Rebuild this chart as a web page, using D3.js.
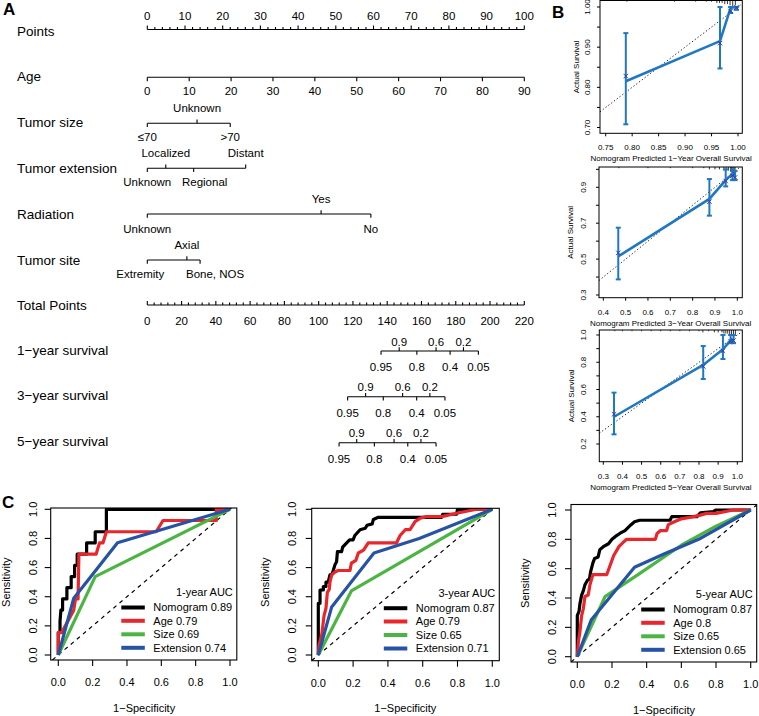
<!DOCTYPE html>
<html><head><meta charset="utf-8">
<script src="https://cdn.jsdelivr.net/npm/d3@7/dist/d3.min.js"></script>
<style>
html,body{margin:0;padding:0;background:#fff;}
svg{display:block;font-family:"Liberation Sans",Arial,Helvetica,sans-serif;}
</style></head><body>
<svg id="chart" width="759" height="716"></svg>
<script>
// ================= DATA =================
// --- Nomogram (panel A)
const rowLabels = ["Points","Age","Tumor size","Tumor extension","Radiation","Tumor site","Total Points","1\u2212year survival","3\u2212year survival","5\u2212year survival"];
const pointsTicks = [0,10,20,30,40,50,60,70,80,90,100];
const pointsMinorTicks = [2,4,6,8,12,14,16,18,22,24,26,28,32,34,36,38,42,44,46,48,52,54,56,58,62,64,66,68,72,74,76,78,82,84,86,88,92,94,96,98];
const ageTicks = [0,10,20,30,40,50,60,70,80,90];
const ageRange = [0,90];
const sizeLevels = ["\u226470","Unknown",">70"];
const sizePoints = [0,13.2,22.0];
const extLevels = ["Unknown","Localized","Regional","Distant"];
const extPoints = [0,4.9,12.3,26.1];
const radLevels = ["Unknown","Yes","No"];
const radPoints = [0,46.1,59.3];
const siteLevels = ["Extremity","Axial","Bone, NOS"];
const sitePoints = [0,10.5,14.0];
const totalTicks = [0,20,40,60,80,100,120,140,160,180,200,220];
const totalMinorTicks = [4,8,12,16,24,28,32,36,44,48,52,56,64,68,72,76,84,88,92,96,104,108,112,116,124,128,132,136,144,148,152,156,164,168,172,176,184,188,192,196,204,208,212,216];
const survLevels = ["0.95","0.9","0.8","0.6","0.4","0.2","0.05"];
const surv1Total = [136.4,147.0,157.3,168.5,176.7,184.5,193.2];
const surv3Total = [116.9,127.4,137.7,149.0,157.2,164.9,173.7];
const surv5Total = [111.9,122.2,132.5,144.0,152.0,159.7,168.5];

// --- Calibration (panel B)
const cal1Pred = [0.788,0.966,0.986,0.997];
const cal1Obs  = [0.815,0.915,0.998,1.0];
const cal1Lo   = [0.708,0.847,0.985,0.993];
const cal1Hi   = [0.935,1.0,1.0,1.0];
const cal1Corr = [0.828,0.910,0.990,0.999];
const cal1XTicks = [0.75,0.80,0.85,0.90,0.95,1.00];
const cal1YTicks = [0.70,0.75,0.80,0.85,0.90,0.95,1.00];
const cal1YLabels = [0.70,0.80,0.90,1.00];
const cal1HistX = [0.79,0.88,0.92,0.94,0.95,0.96,0.965,0.97,0.975,0.98,0.985,0.99,0.995];
const cal1HistN = [1,1,1,1,1,2,2,2,3,3,4,5,4];

const cal2Pred = [0.467,0.875,0.948,0.978,0.99];
const cal2Obs  = [0.515,0.835,0.94,0.975,0.965];
const cal2Lo   = [0.387,0.742,0.905,0.94,0.94];
const cal2Hi   = [0.675,0.946,1.0,1.0,0.99];
const cal2Corr = [0.535,0.82,0.935,0.965,0.955];
const cal2XTicks = [0.4,0.5,0.6,0.7,0.8,0.9,1.0];
const cal2YTicks = [0.3,0.4,0.5,0.6,0.7,0.8,0.9,1.0];
const cal2YLabels = [0.3,0.5,0.7,0.9];
const cal2HistX = [0.47,0.6,0.7,0.8,0.85,0.875,0.9,0.92,0.94,0.95,0.96,0.97,0.975,0.98,0.985,0.99];
const cal2HistN = [1,1,1,1,1,2,2,2,3,3,3,4,4,5,5,4];

const cal3Pred = [0.356,0.822,0.925,0.965,0.98];
const cal3Obs  = [0.40,0.78,0.895,0.96,0.965];
const cal3Lo   = [0.271,0.677,0.824,0.94,0.94];
const cal3Hi   = [0.577,0.919,1.0,1.0,1.0];
const cal3Corr = [0.418,0.77,0.885,0.955,0.96];
const cal3XTicks = [0.3,0.4,0.5,0.6,0.7,0.8,0.9,1.0];
const cal3YTicks = [0.2,0.3,0.4,0.5,0.6,0.7,0.8,0.9,1.0];
const cal3YLabels = [0.2,0.4,0.6,0.8,1.0];
const cal3HistX = [0.36,0.4,0.45,0.5,0.55,0.6,0.65,0.7,0.75,0.8,0.82,0.85,0.88,0.9,0.92,0.93,0.94,0.95,0.96,0.97,0.98,0.99];
const cal3HistN = [1,1,1,1,1,1,1,1,1,1,2,1,2,2,2,3,3,3,4,4,5,4];

// --- ROC (panel C)
const rocTicks = [0,0.2,0.4,0.6,0.8,1.0];
const rocSeriesNames = ["Nomogram","Age","Size","Extension"];
const auc1 = ["0.89","0.79","0.69","0.74"];
const auc3 = ["0.87","0.79","0.65","0.71"];
const auc5 = ["0.87","0.8","0.65","0.65"];

const nomo1 = [[0,0],[0,0.154],[0.01,0.154],[0.01,0.231],[0.015,0.308],[0.025,0.308],[0.025,0.385],[0.05,0.385],[0.05,0.462],[0.075,0.462],[0.075,0.538],[0.095,0.538],[0.095,0.615],[0.11,0.615],[0.11,0.692],[0.165,0.692],[0.165,0.769],[0.215,0.769],[0.215,0.846],[0.28,0.846],[0.28,1],[1,1]];
const age1 = [[0,0],[0,0.154],[0.02,0.154],[0.09,0.308],[0.10,0.385],[0.115,0.385],[0.12,0.692],[0.22,0.692],[0.24,0.769],[0.26,0.769],[0.28,0.846],[0.57,0.846],[0.61,0.923],[0.92,0.923],[0.92,1],[1,1]];
const size1 = [[0,0],[0.215,0.538],[1,1]];
const ext1 = [[0,0],[0.09,0.39],[0.345,0.77],[1,1]];

const nomo3 = [[0,0],[0,0.355],[0.01,0.355],[0.01,0.446],[0.029,0.446],[0.029,0.47],[0.044,0.47],[0.044,0.5],[0.057,0.5],[0.067,0.55],[0.077,0.55],[0.086,0.58],[0.096,0.62],[0.105,0.64],[0.11,0.71],[0.134,0.71],[0.14,0.74],[0.163,0.77],[0.18,0.79],[0.2,0.79],[0.21,0.82],[0.24,0.86],[0.27,0.87],[0.28,0.89],[0.31,0.9],[0.316,0.93],[0.345,0.945],[0.709,0.945],[0.715,0.966],[0.795,0.966],[0.8,1],[1,1]];
const age3 = [[0,0],[0.004,0.07],[0.02,0.14],[0.033,0.27],[0.044,0.32],[0.052,0.43],[0.063,0.45],[0.067,0.5],[0.077,0.55],[0.096,0.57],[0.115,0.58],[0.182,0.58],[0.19,0.63],[0.216,0.65],[0.23,0.70],[0.26,0.72],[0.287,0.77],[0.45,0.77],[0.47,0.82],[0.5,0.86],[0.527,0.86],[0.556,0.915],[0.584,0.938],[0.62,0.95],[0.71,0.95],[0.795,0.973],[0.91,1],[1,1]];
const size3 = [[0,0],[0.19,0.44],[1,1]];
const ext3 = [[0,0],[0.077,0.33],[0.32,0.70],[0.58,0.80],[1,1]];

const nomo5 = [[0,0],[0,0.28],[0.01,0.31],[0.015,0.36],[0.025,0.42],[0.035,0.45],[0.044,0.49],[0.058,0.52],[0.07,0.53],[0.077,0.58],[0.09,0.64],[0.1,0.67],[0.12,0.68],[0.13,0.73],[0.15,0.75],[0.18,0.77],[0.2,0.8],[0.22,0.82],[0.245,0.84],[0.275,0.86],[0.31,0.9],[0.33,0.92],[0.36,0.93],[0.535,0.93],[0.545,0.955],[0.69,0.955],[0.71,0.98],[0.785,0.99],[0.8,1],[1,1]];
const age5 = [[0,0],[0.006,0.1],[0.015,0.17],[0.025,0.28],[0.035,0.33],[0.044,0.41],[0.063,0.42],[0.073,0.49],[0.09,0.56],[0.17,0.56],[0.19,0.625],[0.21,0.69],[0.24,0.75],[0.265,0.78],[0.285,0.8],[0.45,0.8],[0.46,0.84],[0.48,0.86],[0.515,0.86],[0.525,0.9],[0.56,0.92],[0.6,0.94],[0.67,0.955],[0.71,0.965],[0.745,0.977],[0.8,0.977],[0.9,1],[1,1]];
const size5 = [[0,0],[0.16,0.41],[0.35,0.56],[0.6,0.76],[0.8,0.89],[1,1]];
const ext5 = [[0,0],[0.08,0.25],[0.33,0.61],[0.5,0.7],[0.7,0.8],[1,1]];

// ================= STYLE / LAYOUT =================
const ROC_COLORS = ["#000000","#e8262b","#4bb543","#2753a5"];
const CAL_BLUE = "#1f78c1";
const CAL_MARK = "#3a3aa8";
const svg = d3.select("#chart");

svg.selectAll("text.panel").data([{t:"A",x:3,y:15},{t:"B",x:552,y:18},{t:"C",x:2,y:508}]).join("text")
  .attr("class","panel").attr("x",d=>d.x).attr("y",d=>d.y)
  .style("font-size","17px").style("font-weight","bold").text(d=>d.t);

// ---------- Nomogram ----------
const nom = svg.append("g");
const ptsX = d3.scaleLinear().domain([0,100]).range([147.3,524.3]);
const ageX = d3.scaleLinear().domain(ageRange).range([ptsX(0),ptsX(100)]);
const totX = d3.scaleLinear().domain([0,220]).range([147.3,524.3]);
const rowY = [29.5,77.3,123.3,168.3,214,260,305,351,396.7,442.7];
const rowLabelY = [31,76,122.7,168.3,214,260,305,350.5,395.5,441];
const labelNudge = {"Extremity":-7,"Bone, NOS":15,"Regional":11};

nom.selectAll("text.rowlab").data(rowLabels).join("text").attr("class","rowlab")
  .attr("x",17).attr("y",(d,i)=>rowLabelY[i]).attr("dy","0.35em")
  .style("font-size","13.5px").text(d=>d);

function contAxis(scale, majors, minors, y, dir, majLen, minLen, labOff) {
  const g = nom.append("g").attr("transform",`translate(0,${y})`).attr("stroke","#000").attr("stroke-width",1.1);
  g.append("line").attr("x1",scale(majors[0])).attr("x2",scale(majors[majors.length-1])).attr("y1",0).attr("y2",0);
  if (minors) g.selectAll("line.mn").data(minors).join("line").attr("class","mn")
    .attr("x1",scale).attr("x2",scale).attr("y1",0).attr("y2",dir*minLen);
  g.selectAll("line.mj").data(majors).join("line").attr("class","mj")
    .attr("x1",scale).attr("x2",scale).attr("y1",0).attr("y2",dir*majLen);
  g.selectAll("text").data(majors).join("text").attr("stroke","none")
    .attr("x",scale).attr("y",labOff).attr("dy","0.35em").attr("text-anchor","middle")
    .style("font-size","11.5px").text(d=>d);
}
contAxis(ptsX, pointsTicks, pointsMinorTicks, rowY[0], -1, 4, 2.5, -13.5);
contAxis(ageX, ageTicks, null, rowY[1], 1, 4, 0, 13.7);
contAxis(totX, totalTicks, totalMinorTicks, rowY[6], -1, 4, 2.5, 15.7);

function catAxis(scale, levels, vals, y, aboveOff, belowOff) {
  const g = nom.append("g").attr("transform",`translate(0,${y})`).attr("stroke","#000").attr("stroke-width",1.1);
  g.append("line").attr("x1",scale(d3.min(vals))).attr("x2",scale(d3.max(vals))).attr("y1",0).attr("y2",0);
  const items = levels.map((lv,i)=>({lv, v:vals[i], dir: i%2===0?1:-1}));
  g.selectAll("line.tk").data(items).join("line").attr("class","tk")
    .attr("x1",d=>scale(d.v)).attr("x2",d=>scale(d.v)).attr("y1",0).attr("y2",d=>d.dir*3.8);
  g.selectAll("text").data(items).join("text").attr("stroke","none")
    .attr("x",d=>scale(d.v)+(labelNudge[d.lv]||0)).attr("y",d=>d.dir>0?belowOff:aboveOff)
    .attr("dy","0.35em").attr("text-anchor","middle").style("font-size","11.5px").text(d=>d.lv);
}
catAxis(ptsX, sizeLevels, sizePoints, rowY[2], -15, 13.4);
catAxis(ptsX, extLevels, extPoints, rowY[3], -15, 13.4);
catAxis(ptsX, radLevels, radPoints, rowY[4], -15, 15);
catAxis(ptsX, siteLevels, sitePoints, rowY[5], -15, 14);
catAxis(totX, survLevels, surv1Total, rowY[7], -9.4, 15.8);
catAxis(totX, survLevels, surv3Total, rowY[8], -9.4, 15.8);
catAxis(totX, survLevels, surv5Total, rowY[9], -9.4, 15.8);

// ---------- Calibration ----------
function calPlot(c) {
  const g = svg.append("g");
  const x = d3.scaleLinear().domain(c.xDom).range(c.xRange);
  const y = d3.scaleLinear().domain(c.yDom).range(c.yRange);
  const b = c.box;
  const fs = "8px";
  const v0 = Math.max(x.invert(b.l), y.invert(b.b)), v1 = Math.min(x.invert(b.r), y.invert(b.t));
  g.append("line").attr("x1",x(v0)).attr("y1",y(v0)).attr("x2",x(v1)).attr("y2",y(v1))
    .attr("stroke","#222").attr("stroke-width",1).attr("stroke-dasharray","1.3,2.2");
  g.selectAll("line.h").data(c.histX.map((v,i)=>[v,c.histN[i]])).join("line").attr("class","h")
    .attr("x1",d=>x(d[0])).attr("x2",d=>x(d[0])).attr("y1",b.t).attr("y2",d=>b.t+d[1]*1.2)
    .attr("stroke","#000").attr("stroke-width",0.8);
  const pts = c.pred.map((p,i)=>({p, o:c.obs[i], lo:c.lo[i], hi:c.hi[i], cr:c.corr[i]}));
  const eb = g.append("g").attr("stroke",CAL_BLUE).attr("stroke-width",2);
  eb.selectAll("line.v").data(pts).join("line").attr("class","v")
    .attr("x1",d=>x(d.p)).attr("x2",d=>x(d.p)).attr("y1",d=>y(d.lo)).attr("y2",d=>y(d.hi));
  eb.selectAll("line.c1").data(pts).join("line").attr("class","c1")
    .attr("x1",d=>x(d.p)-2.5).attr("x2",d=>x(d.p)+2.5).attr("y1",d=>y(d.lo)).attr("y2",d=>y(d.lo));
  eb.selectAll("line.c2").data(pts).join("line").attr("class","c2")
    .attr("x1",d=>x(d.p)-2.5).attr("x2",d=>x(d.p)+2.5).attr("y1",d=>y(d.hi)).attr("y2",d=>y(d.hi));
  g.append("path").datum(pts).attr("fill","none").attr("stroke",CAL_BLUE).attr("stroke-width",2.6)
    .attr("d",d3.line().x(d=>x(d.p)).y(d=>y(d.o)));
  const mk = g.append("g").attr("stroke",CAL_MARK).attr("stroke-width",1);
  mk.selectAll("path").data(pts).join("path")
    .attr("d",d=>{const cx=x(d.p), cy=y(d.cr), s=2.2; return `M${cx-s},${cy-s}L${cx+s},${cy+s}M${cx-s},${cy+s}L${cx+s},${cy-s}`;});
  g.append("rect").attr("x",b.l).attr("y",b.t).attr("width",b.r-b.l).attr("height",b.b-b.t)
    .attr("fill","none").attr("stroke","#000").attr("stroke-width",1);
  const ax = g.append("g").attr("stroke","#000");
  ax.selectAll("line.xt").data(c.xTicks).join("line").attr("class","xt")
    .attr("x1",x).attr("x2",x).attr("y1",b.b).attr("y2",b.b+3);
  ax.selectAll("line.yt").data(c.yTicks).join("line").attr("class","yt")
    .attr("y1",y).attr("y2",y).attr("x1",b.l).attr("x2",b.l-3);
  g.selectAll("text.xl").data(c.xTicks).join("text").attr("class","xl")
    .attr("x",x).attr("y",b.b+14).attr("dy","0.35em").attr("text-anchor","middle").style("font-size",fs)
    .text(d=>c.fmt(d));
  g.selectAll("text.yl").data(c.yLabels).join("text").attr("class","yl")
    .attr("transform",d=>`translate(${c.yTickX},${y(d)}) rotate(-90)`).attr("dy","0.35em")
    .attr("text-anchor","middle").style("font-size",fs).text(d=>c.fmt(d));
  g.append("text").attr("x",(b.l+b.r)/2).attr("y",b.b+25).attr("dy","0.35em").attr("text-anchor","middle")
    .style("font-size",fs).text(c.xLabel);
  g.append("text").attr("transform",`translate(${c.yLabX},${(b.t+b.b)/2}) rotate(-90)`).attr("dy","0.35em")
    .attr("text-anchor","middle").style("font-size",fs).text("Actual Survival");
}
const f2 = d3.format(".2f"), f1 = d3.format(".1f");
calPlot({xDom:[0.75,1.0], xRange:[605.7,738], yDom:[0.7,1.0], yRange:[127.5,7],
  box:{l:600,r:742.3,t:0.5,b:133.3}, pred:cal1Pred, obs:cal1Obs, lo:cal1Lo, hi:cal1Hi, corr:cal1Corr,
  xTicks:cal1XTicks, yTicks:cal1YTicks, yLabels:cal1YLabels, histX:cal1HistX, histN:cal1HistN,
  fmt:f2, yTickX:586.7, yLabX:576.5, xLabel:"Nomogram Predicted 1\u2212Year Overall Survival"});
calPlot({xDom:[0.4,1.0], xRange:[603.3,737.3], yDom:[0.3,0.9], yRange:[295,187.3],
  box:{l:599,r:742.3,t:167,b:297.7}, pred:cal2Pred, obs:cal2Obs, lo:cal2Lo, hi:cal2Hi, corr:cal2Corr,
  xTicks:cal2XTicks, yTicks:cal2YTicks, yLabels:cal2YLabels, histX:cal2HistX, histN:cal2HistN,
  fmt:f1, yTickX:583.3, yLabX:570, xLabel:"Nomogram Predicted 3\u2212Year Overall Survival"});
calPlot({xDom:[0.3,1.0], xRange:[603.3,737.3], yDom:[0.2,1.0], yRange:[444,335],
  box:{l:599.3,r:742.3,t:330,b:461.7}, pred:cal3Pred, obs:cal3Obs, lo:cal3Lo, hi:cal3Hi, corr:cal3Corr,
  xTicks:cal3XTicks, yTicks:cal3YTicks, yLabels:cal3YLabels, histX:cal3HistX, histN:cal3HistN,
  fmt:f1, yTickX:583.3, yLabX:571, xLabel:"Nomogram Predicted 5\u2212Year Overall Survival"});

// ---------- ROC ----------
let clipId = 0;
function rocPlot(c) {
  const g = svg.append("g");
  const x = d3.scaleLinear().domain([0,1]).range(c.xRange);
  const y = d3.scaleLinear().domain([0,1]).range(c.yRange);
  const b = c.box;
  const id = "clip"+(clipId++);
  svg.append("defs").append("clipPath").attr("id",id).append("rect")
    .attr("x",b.l).attr("y",b.t).attr("width",b.r-b.l).attr("height",b.b-b.t);
  const pg = g.append("g").attr("clip-path",`url(#${id})`);
  const lo = Math.max(x.invert(b.l), y.invert(b.b)), hi = Math.min(x.invert(b.r), y.invert(b.t));
  pg.append("line").attr("x1",x(lo)).attr("y1",y(lo)).attr("x2",x(hi)).attr("y2",y(hi))
    .attr("stroke","#000").attr("stroke-width",1.2).attr("stroke-dasharray","4,4");
  const ln = d3.line().x(d=>x(d[0])).y(d=>y(d[1]));
  pg.selectAll("path.curve").data(c.curves).join("path").attr("class","curve")
    .attr("fill","none").attr("stroke",(d,i)=>ROC_COLORS[i]).attr("stroke-width",3.2)
    .attr("stroke-linejoin","round").attr("d",ln);
  g.append("rect").attr("x",b.l).attr("y",b.t).attr("width",b.r-b.l).attr("height",b.b-b.t)
    .attr("fill","none").attr("stroke","#000").attr("stroke-width",1.1);
  const ax = g.append("g").attr("stroke","#000").attr("stroke-width",1.1);
  ax.selectAll("line.xt").data(rocTicks).join("line").attr("class","xt")
    .attr("x1",x).attr("x2",x).attr("y1",b.b).attr("y2",b.b+6);
  ax.selectAll("line.yt").data(rocTicks).join("line").attr("class","yt")
    .attr("y1",y).attr("y2",y).attr("x1",b.l).attr("x2",b.l-6);
  g.selectAll("text.xl").data(rocTicks).join("text").attr("class","xl")
    .attr("x",x).attr("y",c.tickY).attr("dy","0.35em").attr("text-anchor","middle")
    .style("font-size","11px").text(d=>f1(d));
  g.selectAll("text.yl").data(rocTicks).join("text").attr("class","yl")
    .attr("transform",d=>`translate(${c.yTickX},${y(d)}) rotate(-90)`).attr("dy","0.35em")
    .attr("text-anchor","middle").style("font-size","11px").text(d=>f1(d));
  g.append("text").attr("x",x(0.5)).attr("y",c.xTitleY).attr("dy","0.35em").attr("text-anchor","middle")
    .style("font-size","11px").text("1\u2212Specificity");
  g.append("text").attr("transform",`translate(${c.yTitleX},${(y(0)+y(1))/2}) rotate(-90)`).attr("dy","0.35em")
    .attr("text-anchor","middle").style("font-size","11px").text("Sensitivity");
  // legend
  const lg = g.append("g");
  lg.append("text").attr("x",b.r-4).attr("y",b.b-67.8).attr("dy","0.35em").attr("text-anchor","end")
    .style("font-size","11px").text(c.title);
  const rowsY = [52.5,39.2,25.7,12.2];
  const items = rocSeriesNames.map((n,i)=>({n, auc:c.aucs[i], i}));
  lg.selectAll("line").data(items).join("line")
    .attr("x1",b.r-115.5).attr("x2",b.r-92).attr("y1",d=>b.b-rowsY[d.i]).attr("y2",d=>b.b-rowsY[d.i])
    .attr("stroke",d=>ROC_COLORS[d.i]).attr("stroke-width",4);
  lg.selectAll("text.it").data(items).join("text").attr("class","it")
    .attr("x",b.r-83.5).attr("y",d=>b.b-rowsY[d.i]).attr("dy","0.35em")
    .style("font-size","11px").text(d=>d.n+" "+d.auc);
}
rocPlot({xRange:[58.3,230], yRange:[655,509.3], box:{l:50.7,r:236.8,t:508,b:660},
  tickY:681.7, yTickX:33, xTitleY:708, yTitleX:6, title:"1-year AUC", aucs:auc1,
  curves:[nomo1,age1,size1,ext1]});
rocPlot({xRange:[318.3,492.3], yRange:[655,509.3], box:{l:311.7,r:499.3,t:508.3,b:660.7},
  tickY:683.3, yTickX:291.7, xTitleY:708.3, yTitleX:265, title:"3-year AUC", aucs:auc3,
  curves:[nomo3,age3,size3,ext3]});
rocPlot({xRange:[577.3,750.7], yRange:[656.7,510], box:{l:571,r:756.7,t:504.5,b:662},
  tickY:684.3, yTickX:551.7, xTitleY:710, yTitleX:525, title:"5-year AUC", aucs:auc5,
  curves:[nomo5,age5,size5,ext5]});
</script>
</body></html>
